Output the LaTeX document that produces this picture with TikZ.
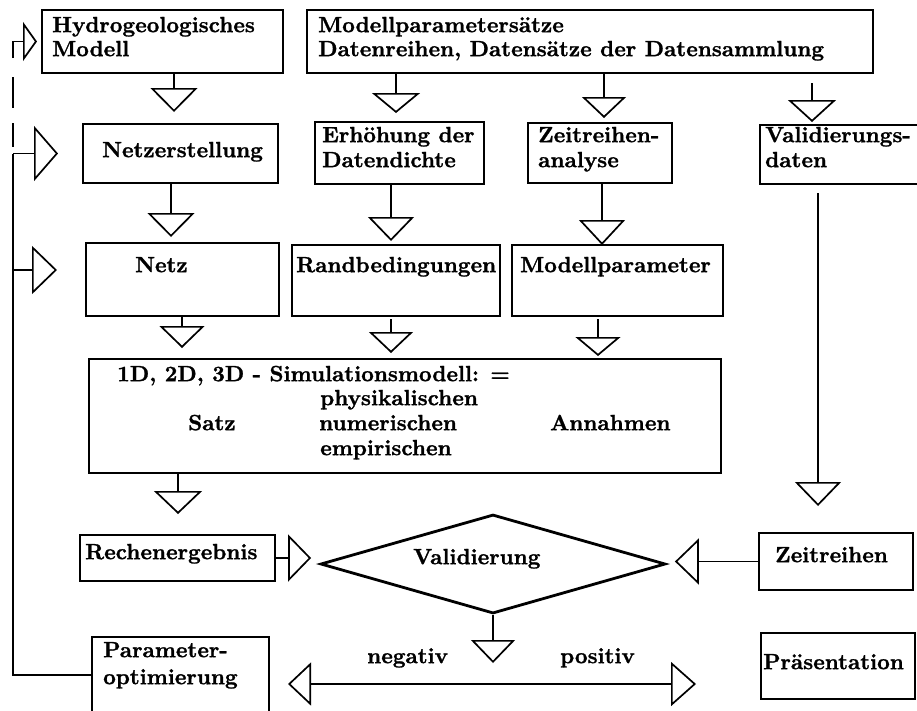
\documentclass[tikz,border=0pt]{standalone}
\usepackage{fontspec}
\newfontfamily\hvy{lmroman10-bold.otf}[FakeBold=1.2]
\usetikzlibrary{arrows.meta,shapes.geometric}
\begin{document}
\begin{tikzpicture}[x=1pt,y=-1pt,
  ln/.style={line width=1.7pt},
  box/.style={draw, line width=1.7pt, rectangle, inner sep=0pt, outer sep=0pt, anchor=north west},
  txt/.style={font=\hvy\fontsize{22}{24}\selectfont, inner sep=0pt, anchor=mid west},
  tip/.style 2 args={-{Triangle[open,length=#1,width=#2]}}
]
\useasboundingbox (0,0) rectangle (917,710);
% boxes
\node[box, minimum width=241pt, minimum height=63pt] (hydro) at (42,10) {};
\node[box, minimum width=566pt, minimum height=63pt] (mp) at (307,10) {};
\node[box, minimum width=195pt, minimum height=59pt] (netzerst) at (83,124) {};
\node[box, minimum width=169pt, minimum height=62pt] (erh) at (315,122) {};
\node[box, minimum width=144pt, minimum height=60pt] (zeit) at (528,123) {};
\node[box, minimum width=158pt, minimum height=59pt] (val) at (760,125) {};
\node[box, minimum width=193pt, minimum height=73pt] (netz) at (86,243) {};
\node[box, minimum width=208pt, minimum height=71pt] (rand) at (292,245) {};
\node[box, minimum width=211pt, minimum height=71pt] (modp) at (512,245) {};
\node[box, minimum width=632pt, minimum height=114pt] (sim) at (89,359) {};
\node[box, minimum width=195pt, minimum height=46pt] (rech) at (80,535) {};
\node[box, minimum width=154pt, minimum height=57pt] (zr) at (759,533) {};
\node[box, minimum width=177pt, minimum height=76pt] (param) at (92,637) {};
\node[box, minimum width=154pt, minimum height=66pt] (praes) at (761,633) {};
\node[draw, diamond, line width=2.8pt, minimum width=345pt, minimum height=99pt, inner sep=0pt] (dia) at (493,564) {};
% texts
\node[txt] (t1) at (52,30) {Hydrogeologisches};
\node[txt] (t2) at (52,54) {Modell};
\node[txt] (t3) at (318,30) {Modellparametersätze};
\node[txt] (t4) at (318,54) {Datenreihen, Datensätze der Datensammlung};
\node[txt] (t5) at (102,155) {Netzerstellung};
\node[txt] (t6) at (322,140) {Erhöhung der};
\node[txt] (t7) at (322,165) {Datendichte};
\node[txt] (t8) at (538,140) {Zeitreihen-};
\node[txt] (t9) at (538,165) {analyse};
\node[txt] (t10) at (765,140) {Validierungs-};
\node[txt] (t11) at (765,165) {daten};
\node[txt] (t12) at (135,270) {Netz};
\node[txt] (t13) at (296,270) {Randbedingungen};
\node[txt] (t14) at (520,270) {Modellparameter};
\node[txt] (t15) at (117,379) {1D, 2D, 3D - Simulationsmodell: =};
\node[txt] (t16) at (320,403) {physikalischen};
\node[txt] (t17) at (188,428) {Satz};
\node[txt] (t18) at (319,428) {numerischen};
\node[txt] (t19) at (550,428) {Annahmen};
\node[txt] (t20) at (320,453) {empirischen};
\node[txt] (t21) at (85,557) {Rechenergebnis};
\node[txt] (t22) at (413,562) {Validierung};
\node[txt] (t23) at (775,560) {Zeitreihen};
\node[txt] (t24) at (367,661) {negativ};
\node[txt] (t25) at (560,661) {positiv};
\node[txt] (t26) at (103,655) {Parameter-};
\node[txt] (t27) at (103,682) {optimierung};
\node[txt] (t28) at (763,667) {Präsentation};
% helper x positions
\coordinate (xa) at (174,0);
\coordinate (xb) at (396,0);
\coordinate (xc) at (604,0);
\coordinate (xd) at (812,0);
\coordinate (xe) at (171,0);
\coordinate (xf) at (391,0);
\coordinate (xg) at (602,0);
\coordinate (xh) at (182,0);
\coordinate (xi) at (598,0);
\coordinate (xj) at (178,0);
\coordinate (xk) at (818,0);
\coordinate (fbx) at (13,0);
\coordinate (hb) at (493,684);
% downward connectors
\draw[ln, tip={24pt}{47pt}, shorten >=12pt] (hydro.south -| xa) -- (netzerst.north -| xa);
\draw[ln, tip={20pt}{48pt}, shorten >=9pt] (mp.south -| xb) -- (erh.north -| xb);
\draw[ln, tip={21pt}{44pt}, shorten >=5pt] (mp.south -| xc) -- (zeit.north -| xc);
\draw[ln, tip={22pt}{48pt}, shorten <=10pt, shorten >=3pt] (mp.south -| xd) -- (val.north -| xd);
\draw[ln, tip={24pt}{47pt}, shorten >=6pt] (netzerst.south -| xe) -- (netz.north -| xe);
\draw[ln, tip={24pt}{46pt}, shorten >=4pt] (erh.south -| xf) -- (rand.north -| xf);
\draw[ln, tip={25pt}{46pt}] (zeit.south -| xg) -- (modp.north -| xg);
\draw[ln, tip={22pt}{45pt}, shorten >=11pt] (netz.south -| xh) -- (sim.north -| xh);
\draw[ln, tip={21pt}{44pt}, shorten <=3pt, shorten >=6pt] (rand.south -| xf) -- (sim.north -| xf);
\draw[ln, tip={19pt}{45pt}, shorten <=3pt, shorten >=3pt] (modp.south -| xi) -- (sim.north -| xi);
\draw[ln, tip={23pt}{48pt}, shorten >=21pt] (sim.south -| xj) -- (rech.north -| xj);
\draw[ln, tip={24pt}{46pt}, shorten <=9pt, shorten >=27pt] (val.south -| xk) -- (zr.north -| xk);
% horizontal connectors to the diamond
\draw[ln, tip={23pt}{47pt}, shorten >=8pt] (rech.east) -- (rech.east -| dia.west);
\draw[ln, tip={24pt}{46pt}, shorten >=8pt] (zr.west) -- (zr.west -| dia.east);
% result branch
\draw[ln, tip={23pt}{44pt}, shorten >=21pt] (dia.south) -- (hb);
\draw[ln, tip={23pt}{43pt}, shorten >=19pt] (hb) -- (hb -| param.east);
\draw[ln, tip={25pt}{44pt}, shorten >=65pt] (hb) -- (hb -| praes.west);
% feedback loop
\coordinate (n3) at ([yshift=9.5pt]netz.west);
\coordinate (d0) at (13,58);
\coordinate (d1) at (13,77);
\coordinate (d2) at (13,108);
\coordinate (d3) at (13,123);
\coordinate (d4) at (13,147);
\draw[ln] (param.west) -| (fbx |- netzerst.west);
\draw[ln, tip={24pt}{55pt}, shorten >=25pt] (fbx |- netzerst.west) -- (netzerst.west);
\draw[ln, tip={25pt}{48pt}, shorten >=29pt] (fbx |- n3) -- (n3);
\draw[ln, tip={14pt}{39pt}, shorten >=5pt] (d0) |- (hydro.west);
\draw[ln] (d1) -- (d2) (d3) -- (d4);
\end{tikzpicture}
\end{document}
